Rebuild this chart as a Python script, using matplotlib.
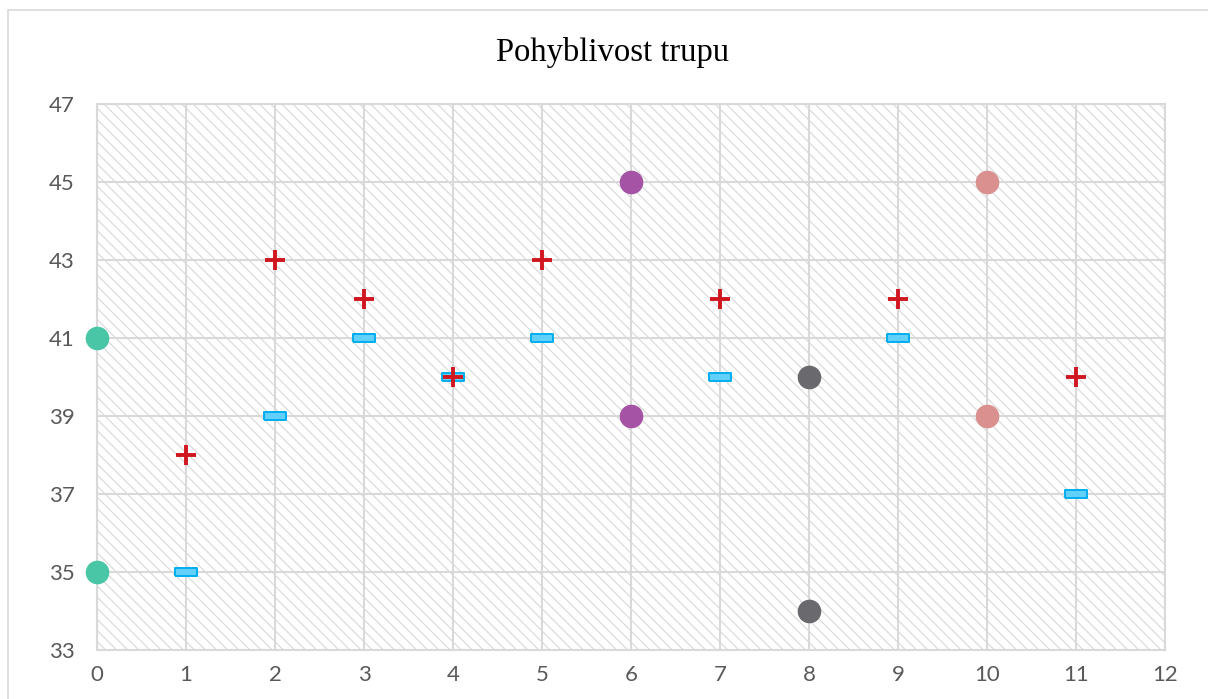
import matplotlib
matplotlib.use('Agg')
import matplotlib.pyplot as plt
from matplotlib.patches import Rectangle

# data of the chart
x_teal = [0, 0]
y_teal = [41, 35]
x_dash = [1, 2, 3, 4, 5, 7, 9, 11]
y_dash = [35, 39, 41, 40, 41, 40, 41, 37]
x_plus = [1, 2, 3, 4, 5, 7, 9, 11]
y_plus = [38, 43, 42, 40, 43, 42, 42, 40]
x_purple = [6, 6]
y_purple = [45, 39]
x_gray = [8, 8]
y_gray = [40, 34]
x_pink = [10, 10]
y_pink = [45, 39]

x_ticks = list(range(0, 13))
y_ticks = list(range(33, 48, 2))
title = 'Pohyblivost trupu'

plt.rcParams['hatch.linewidth'] = 0.8
plt.rcParams['hatch.color'] = '#d8d8d8'

fig = plt.figure(figsize=(12.08, 6.99), dpi=100)
# outer frame of the chart
fig.patches.append(Rectangle((8 / 1208, -0.01), 1.0, 1 - 10 / 699 + 0.01,
                             transform=fig.transFigure, fill=False,
                             edgecolor='#d9d9d9', lw=1.2))

ax = fig.add_axes([97 / 1208, 1 - 650 / 699, (1165 - 97) / 1208, (650 - 104) / 699])
ax.set_xlim(0, 12)
ax.set_ylim(33, 47)

# hatched background
ax.add_patch(Rectangle((0, 0), 1, 1, transform=ax.transAxes, facecolor='white',
                       hatch='\\\\\\', edgecolor='#d8d8d8', lw=0, zorder=0))

ax.set_xticks(x_ticks)
ax.set_yticks(y_ticks)
ax.grid(True, color='#d9d9d9', lw=1.5, zorder=1)
for s in ax.spines.values():
    s.set_color('#d9d9d9')
    s.set_linewidth(1.5)
ax.tick_params(length=0, labelsize=16, labelcolor='#595959')
ax.tick_params(axis='y', pad=16)
ax.tick_params(axis='x', pad=11)
for lab in ax.get_xticklabels() + ax.get_yticklabels():
    lab.set_family('Lato')

# dash shaped marker
dash = [(-1, -0.32), (1, -0.32), (1, 0.32), (-1, 0.32), (-1, -0.32)]

ax.plot(x_teal, y_teal, 'o', ms=16, color='#48c6a5', clip_on=False, zorder=5)
ax.plot(x_dash, y_dash, ls='none', marker=dash, ms=16, mfc='#62d0f8',
        mec='#00aeef', mew=1.4, zorder=4)
ax.plot(x_plus, y_plus, '+', ms=14, mew=2.8, color='#d0161f', zorder=6)
ax.plot(x_purple, y_purple, 'o', ms=16, color='#a553a5', zorder=5)
ax.plot(x_gray, y_gray, 'o', ms=16, color='#6a6a6e', zorder=5)
ax.plot(x_pink, y_pink, 'o', ms=16, color='#d9908e', zorder=5)

fig.text(613 / 1208, 1 - 52 / 699, title, ha='center', va='center',
         fontsize=23.5, family='Liberation Serif')

fig.savefig('out.png', dpi=100)
